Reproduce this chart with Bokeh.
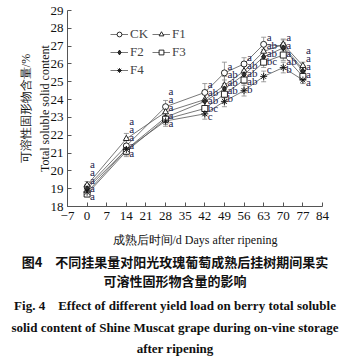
from bokeh.plotting import figure
from bokeh.models import (ColumnDataSource, Whisker, TeeHead, FixedTicker, Legend,
                          LegendItem, Range1d, Div)
from bokeh.layouts import column
from bokeh.embed import file_html
from bokeh.resources import INLINE
from bokeh.core.properties import value

days = [0, 14, 28, 42, 49, 56, 63, 70, 77]
series_names = ["CK", "F1", "F2", "F3", "F4"]
ck_vals = [19.1, 21.4, 23.6, 24.4, 25.5, 26.0, 27.1, 27.0, 25.7]
f1_vals = [19.2, 21.8, 23.3, 24.0, 24.8, 25.6, 26.7, 27.1, 25.9]
f2_vals = [19.0, 21.2, 23.0, 23.9, 24.6, 25.4, 26.4, 26.9, 25.6]
f3_vals = [18.7, 21.1, 22.9, 23.5, 24.3, 25.1, 26.1, 26.5, 25.3]
f4_vals = [18.8, 21.2, 22.8, 23.2, 23.9, 24.5, 25.3, 25.8, 25.1]
ck_err = [0.15, 0.3, 0.35, 0.5, 0.6, 0.35, 0.4, 0.35, 0.2]
f1_err = [0.2, 0.3, 0.3, 0.4, 0.5, 0.4, 0.3, 0.3, 0.2]
f2_err = [0.15, 0.3, 0.3, 0.5, 0.5, 0.5, 0.4, 0.3, 0.2]
f3_err = [0.15, 0.3, 0.3, 0.4, 0.5, 0.5, 0.3, 0.3, 0.2]
f4_err = [0.15, 0.3, 0.3, 0.3, 0.3, 0.3, 0.3, 0.3, 0.2]
# significance letters at each day, listed from highest to lowest mean
sig_letters = [
    ["a", "a", "a", "a", "a"],
    ["a", "a", "a", "a", "a"],
    ["a", "a", "a", "a", "a"],
    ["a", "ab", "ab", "bc", "c"],
    ["a", "ab", "ab", "ab", "b"],
    ["a", "ab", "ab", "ab", "b"],
    ["a", "ab", "ab", "bc", "c"],
    ["a", "a", "a", "ab", "b"],
    ["a", "a", "a", "a", "a"],
]
x_ticks = [-7, 0, 7, 14, 21, 28, 35, 42, 49, 56, 63, 70, 77, 84]
y_ticks = [18, 19, 20, 21, 22, 23, 24, 25, 26, 27, 28, 29]
caption_cn = ["图4\u2003不同挂果量对阳光玫瑰葡萄成熟后挂树期间果实",
              "可溶性固形物含量的影响"]
caption_en = ["Fig. 4\u2003Effect of different yield load on berry total soluble",
              "solid content of Shine Muscat grape during on-vine storage",
              "after ripening"]

values_all = [ck_vals, f1_vals, f2_vals, f3_vals, f4_vals]
errs_all = [ck_err, f1_err, f2_err, f3_err, f4_err]
markers = ["circle", "triangle", "diamond", "square", "asterisk"]
fills = ["white", "white", "#333333", "white", None]

SERIF = "Liberation Serif"

p = figure(output_backend="svg", toolbar_location=None,
           frame_width=255, frame_height=196,
           x_range=Range1d(-7, 84), y_range=Range1d(18, 29),
           min_border_left=67, min_border_right=20, min_border_top=10,
           min_border_bottom=0)
p.outline_line_color = None
p.grid.visible = False
p.background_fill_color = "white"

items = {}
for name, vals, errs, mk, fc in zip(series_names, values_all, errs_all, markers, fills):
    src = ColumnDataSource(dict(x=days, y=vals,
                                lo=[v - e for v, e in zip(vals, errs)],
                                hi=[v + e for v, e in zip(vals, errs)]))
    w = Whisker(source=src, base="x", lower="lo", upper="hi",
                line_color="#888888", line_width=0.8,
                upper_head=TeeHead(size=5, line_color="#888888", line_width=0.8),
                lower_head=TeeHead(size=5, line_color="#888888", line_width=0.8))
    p.add_layout(w)
    ln = p.line("x", "y", source=src, line_color="#555555", line_width=0.8)
    kw = dict(size=6 if mk != "asterisk" else 7, line_color="#111111", line_width=0.9)
    if fc is not None:
        kw["fill_color"] = fc
    sc = p.scatter("x", "y", source=src, marker=mk, **kw)
    items[name] = LegendItem(label=name, renderers=[ln, sc])

# significance letters: stacked beside each day's cluster
step = 0.45
lx, ly, lt = [], [], []
for i, d in enumerate(days):
    col = sorted([v[i] for v in values_all], reverse=True)
    top, bottom = col[0], col[-1]
    lift = max(0.4, bottom - top + 4 * step - 0.1)
    for k, letter in enumerate(sig_letters[i]):
        lx.append(d)
        ly.append(top + lift - k * step)
        lt.append(letter)
p.text(x=lx, y=ly, text=lt, x_offset=3, text_font=value(SERIF),
       text_font_size="11px", text_color="#22224a", text_baseline="middle",
       text_align="left")

# legend filled column-first: rows read CK F1 / F2 F3 / F4
legend_order = ["CK", "F2", "F4", "F1", "F3"]
legend = Legend(items=[items[n] for n in legend_order], ncols=2, location=(43, 128),
                border_line_color=None, background_fill_alpha=0,
                label_text_font=SERIF, label_text_font_size="13px",
                glyph_width=18, glyph_height=12, label_standoff=2,
                spacing=2, padding=2, margin=0, label_height=12)
p.add_layout(legend)

p.xaxis.ticker = FixedTicker(ticks=x_ticks)
p.yaxis.ticker = FixedTicker(ticks=y_ticks)
p.xaxis.major_label_overrides = {-7: "\u22127"}
for ax in (p.xaxis, p.yaxis):
    ax.major_tick_in = 4
    ax.major_tick_out = 0
    ax.minor_tick_in = 0
    ax.minor_tick_out = 0
    ax.axis_line_color = "#555555"
    ax.major_tick_line_color = "#555555"
    ax.major_label_text_font = SERIF
    ax.major_label_text_font_size = "13px"
    ax.major_label_text_color = "#111111"
    ax.axis_label_text_font = SERIF
    ax.axis_label_text_font_size = "12px"
    ax.axis_label_text_font_style = "normal"
    ax.axis_label_text_color = "#111111"
p.xaxis.axis_label = "成熟后时间/d Days after ripening"
p.yaxis.axis_label = "可溶性固形物含量/%\nTotal soluble solid content"
p.yaxis.axis_label_text_line_height = 1.3
p.xaxis.axis_label_standoff = 10
p.yaxis.axis_label_standoff = -4
p.yaxis.major_label_standoff = 4
p.xaxis.major_label_standoff = 5

cn_style = ("font-family:'Noto Sans CJK SC';font-weight:bold;font-size:13px;"
            "line-height:19px;color:#111;")
en_style = ("font-family:'Liberation Serif';font-weight:bold;font-size:13px;"
            "line-height:21.5px;color:#111;")
html = "".join(f"<div style=\"{cn_style}\">{t}</div>" for t in caption_cn)
html += "<div style='height:5px'></div>"
html += "".join(f"<div style=\"{en_style}\">{t}</div>" for t in caption_en)
div = Div(text=f"<div style='text-align:center;width:350px;white-space:nowrap'>{html}</div>",
          width=350, margin=(3, 0, 0, 0))

layout = column(p, div, spacing=0)
open("out.html", "w").write(file_html(layout, INLINE))
